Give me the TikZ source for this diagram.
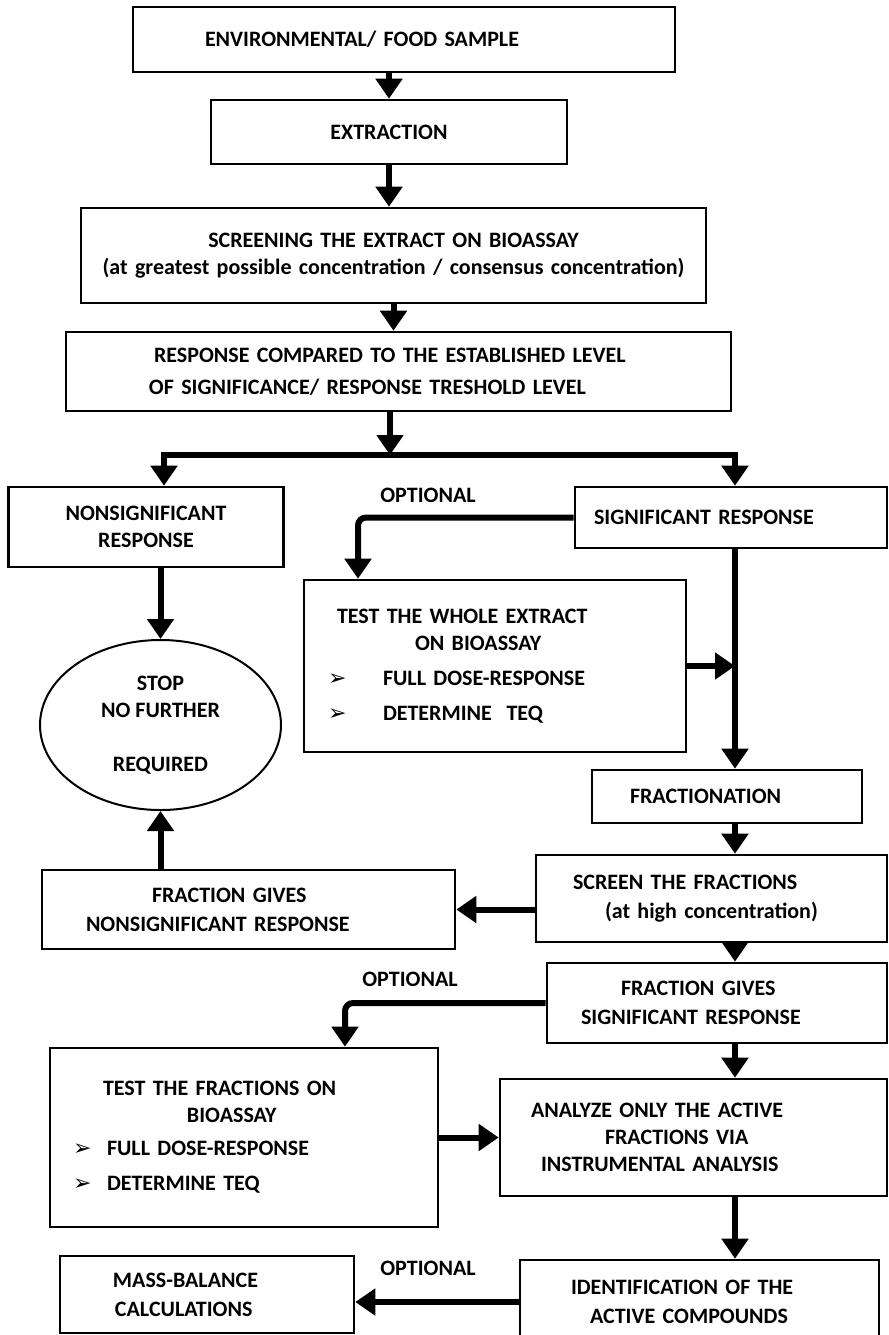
\documentclass[tikz,border=0pt]{standalone}
\usepackage{fontspec}
\setmainfont{Carlito}
\newfontfamily\bulletfont{DejaVu Sans}
\usetikzlibrary{positioning, arrows.meta, shapes.geometric}

\newcommand{\arrowmark}[1]{\makebox[#1][l]{\mdseries\bulletfont ➢}}

\begin{document}
\begin{tikzpicture}[
    x=0.5pt, y=-0.5pt,
    box/.style={rectangle, draw, line width=1.3pt, inner xsep=0pt, inner ysep=3pt, align=left, font=\fontsize{11}{13.5}\selectfont\bfseries},
    stopnode/.style={ellipse, draw, line width=1pt, inner sep=0pt, align=center, font=\fontsize{11}{13.5}\selectfont\bfseries},
    optlabel/.style={font=\fontsize{11}{13.5}\selectfont\bfseries},
    flow/.style={-{Triangle[length=10pt, width=13pt]}, line width=3pt}
]

\useasboundingbox[fill=white] (0,0) rectangle (889,1335);

% Sample preparation chain
\node[box, text width=271pt, minimum height=32.5pt] (env) at (404,39.5) {\hspace*{36pt}ENVIRONMENTAL/ FOOD SAMPLE};
\node[box, align=center, text width=178pt, minimum height=32pt] (extract) at (389,132) {EXTRACTION};
\node[box, align=center, text width=312.5pt, minimum height=47.5pt] (screen) at (393.5,255.5) {SCREENING THE EXTRACT ON BIOASSAY\\(at greatest possible concentration / consensus concentration)};
\node[box, text width=332.5pt, minimum height=39.5pt] (resp) at (398.5,371.5) {\hspace*{44pt}RESPONSE COMPARED TO THE ESTABLISHED LEVEL\\[2.5pt]\hspace*{41.5pt}OF SIGNIFICANCE/ RESPONSE TRESHOLD LEVEL};

% Response branches
\node[box, align=center, text width=137.5pt, minimum height=40pt] (nonsig) at (146,527) {NONSIGNIFICANT\\RESPONSE};
\node[box, text width=156pt, minimum height=30.5pt] (sig) at (731,517.5) {\hspace*{9.5pt}SIGNIFICANT RESPONSE};
\node[box, text width=191pt, minimum height=86pt] (testext) at (495,666) {\hspace*{16.5pt}TEST THE WHOLE EXTRACT\\ \hspace*{55.5pt}ON BIOASSAY\\[4pt] \hspace*{12pt}\arrowmark{27.5pt}FULL DOSE-RESPONSE\\[4pt] \hspace*{12pt}\arrowmark{27.5pt}DETERMINE\ \ TEQ};
\node[stopnode, minimum width=120.5pt, minimum height=85pt] (stop) at (160.5,725) {STOP\\NO FURTHER\\[13.5pt]REQUIRED};

% Fractionation
\node[box, text width=135pt, minimum height=26.5pt] (fract) at (727,796.5) {\hspace*{19pt}FRACTIONATION};
\node[box, text width=175.5pt, minimum height=43.5pt] (screenfr) at (711.5,898.5) {\hspace*{18.5pt}SCREEN THE FRACTIONS\\[1pt]\hspace*{34.5pt}(at high concentration)};
\node[box, text width=206.5pt, minimum height=39.5pt] (fracnon) at (248.5,909.5) {\hspace*{55pt}FRACTION GIVES\\[1pt]\hspace*{22pt}NONSIGNIFICANT RESPONSE};
\node[box, text width=170pt, minimum height=40pt] (fracsig) at (717,1003) {\hspace*{37pt}FRACTION GIVES\\[1pt]\hspace*{17pt}SIGNIFICANT RESPONSE};
\node[box, text width=194pt, minimum height=89.5pt] (testfr) at (244,1137.5) {\hspace*{26.5pt}TEST THE FRACTIONS ON\\ \hspace*{68.5pt}BIOASSAY\\[3pt] \hspace*{11.5pt}\arrowmark{17pt}FULL DOSE-RESPONSE\\[4pt] \hspace*{11.5pt}\arrowmark{17pt}DETERMINE TEQ};
\node[box, text width=193.5pt, minimum height=58.5pt] (analyze) at (693.5,1137.5) {\hspace*{15.5pt}ANALYZE ONLY THE ACTIVE\\ \hspace*{52.5pt}FRACTIONS VIA\\ \hspace*{20.5pt}INSTRUMENTAL ANALYSIS};
\node[box, text width=179.5pt, minimum height=42pt] (ident) at (699.5,1302) {\hspace*{25.5pt}IDENTIFICATION OF THE\\[1pt]\hspace*{35pt}ACTIVE COMPOUNDS};
\node[box, text width=147pt, minimum height=38.5pt] (massbal) at (207,1294.5) {\hspace*{26.5pt}MASS-BALANCE\\[1pt]\hspace*{27.5pt}CALCULATIONS};

% Optional labels
\node[optlabel] (opt1) at (428,495) {OPTIONAL};
\node[optlabel] (opt2) at (410,979) {OPTIONAL};
\node[optlabel] (opt3) at (428,1268) {OPTIONAL};

% Junction points
\coordinate (split) at (390,455);
\coordinate (splitL) at (164,455);
\coordinate (splitR) at (735,455);
\coordinate (trunk) at (735,548);
\coordinate (optA) at (358,519);
\coordinate (optB) at (345,1003);

% Arrows down the top chain
\draw[flow] (env.south -| extract) -- (extract.north);
\draw[flow] (extract.south) -- (extract.south |- screen.north);
\draw[flow] (screen.south) -- (screen.south |- resp.north);
\draw[flow] (resp.south -| split) -- (split);

% Split into both responses
\draw[flow] (split) -- (splitL) -- (splitL |- nonsig.north);
\draw[flow] (split) -- (splitR) -- (splitR |- sig.north);
\draw[flow] (nonsig.south -| stop) -- (stop.north);

% Optional whole extract test
\draw[flow, rounded corners=4pt] (sig.west) -| (optA |- testext.north);
\draw[flow] (testext.east) -- (testext.east -| trunk);

% Main trunk on the right
\draw[flow] (trunk |- sig.south) -- (trunk |- fract.north);
\draw[flow] (trunk |- fract.south) -- (trunk |- screenfr.north);
\draw[flow] (trunk |- screenfr.south) -- (trunk |- fracsig.north);
\draw[flow] (trunk |- fracsig.south) -- (trunk |- analyze.north);
\draw[flow] (trunk |- analyze.south) -- (trunk |- ident.north);

% Side branches
\draw[flow] (screenfr.west |- fracnon.east) -- (fracnon.east);
\draw[flow] (fracnon.north -| stop) -- (stop.south);
\draw[flow, rounded corners=4pt] (fracsig.west) -| (optB |- testfr.north);
\draw[flow] (testfr.east) -- (analyze.west);
\draw[flow] (ident.west) -- (ident.west -| massbal.east);

\end{tikzpicture}
\end{document}
